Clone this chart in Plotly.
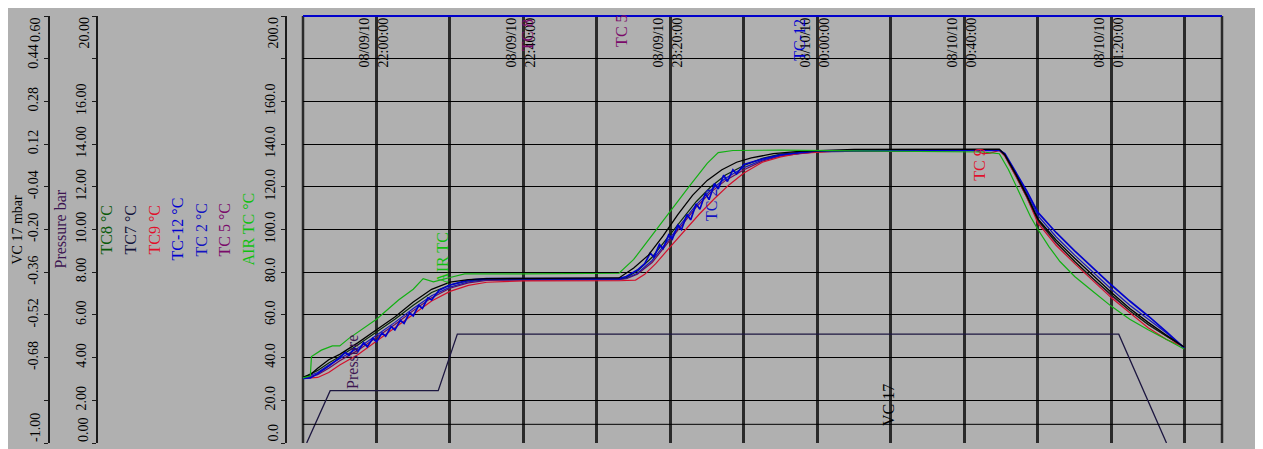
import pandas as pd
import plotly.graph_objects as go

# ---------------- data ----------------
START = pd.Timestamp("2010-08-09 21:40:00")
X_SPAN_MIN = 250.1

# AIR TC (green)
AIR_MIN = [0, 2, 2.3, 5, 8, 10, 12.5, 20, 26, 30, 32.7, 35.5, 40, 44, 60, 86, 90, 95, 100, 105, 110, 113, 117,
           130, 150, 170, 185, 189.5, 192, 195, 198, 200, 203, 206, 210, 215, 220, 225, 230, 235, 239.8]
AIR_T = [30.5, 31.5, 40.5, 43.5, 45.5, 45.5, 49, 58, 67, 72, 77, 75.5, 77.5, 79.2, 79.2, 79.5, 86, 97.5, 108.5, 120,
         131, 136, 137, 137.2, 136.8, 136.5, 136.3, 135.5, 128, 117, 106, 100, 92, 85, 78, 71, 64, 58, 53, 48.5, 44]

# TC9 (red)
TC9_MIN = [0, 4, 7, 10, 15, 20, 25, 30, 35, 40, 45, 50, 60, 86, 90.5, 93, 96, 100, 104, 108, 112, 116, 120, 125,
           130, 135, 145, 160, 183, 185, 187, 189.5, 191, 194, 197, 200, 205, 210, 215, 220, 225, 230, 235, 239.8]
TC9_T = [30.2, 30.7, 33, 36.5, 41.5, 47.8, 54, 60.5, 66.5, 71, 73.8, 75.3, 75.9, 76, 76.3, 79, 84, 92, 100, 107.5,
         114.5, 121, 126.5, 131.5, 134, 135.6, 136.7, 137, 137.2, 135.5, 135.8, 137, 134.5, 125, 115, 103, 92.5, 84,
         76, 68, 61, 54, 48.5, 45]

# TC7 (black)
TC7_MIN = [0, 2, 4, 7, 10, 15, 20, 25, 30, 35, 40, 45, 50, 86, 90, 94, 98, 102, 106, 110, 114, 118, 122, 128, 135,
           150, 189.5, 191, 194, 197, 200, 205, 210, 215, 220, 225, 230, 235, 239.8]
TC7_T = [30.8, 32, 35, 39, 41.5, 47, 53, 59, 66, 72, 75.3, 76.5, 77, 77.3, 82, 88, 97, 107, 116, 123, 128, 131.5,
         133.5, 135.5, 136.6, 137.5, 137.6, 135, 126, 116, 105, 95, 86.5, 78.5, 70.5, 63, 56.5, 50.5, 45]

# TC-12 (blue, noisy)
TC12_MIN = [0, 2, 4, 7, 10, 11.5, 12.5, 14, 15, 16.5, 17.5, 19, 20, 21.5, 22.5, 24, 25, 26.5, 27.5, 29, 30, 31.5,
            32.5, 34, 35, 37, 40, 45, 50, 86, 88, 91, 93, 94.5, 95.5, 97, 98, 99.5, 100.5, 102, 103, 104.5, 105.5,
            107, 108, 109.5, 110.5, 112, 113, 114.5, 115.5, 117, 118, 120, 125, 130, 140, 189.5, 191, 194, 197,
            200, 205, 210, 215, 220, 225, 230, 235, 239.8]
TC12_T = [30.2, 30.5, 32.5, 36, 40, 42.5, 41, 44.5, 43, 47, 45, 49, 47.5, 51.5, 50, 54.5, 53, 57.5, 56, 61, 59.5,
          64.5, 63, 68, 67, 71.5, 74, 76.3, 77, 77, 78, 81, 84, 89, 87, 93, 91, 97.5, 95.5, 102, 100, 107, 104.5,
          112, 109.5, 117, 114, 121.5, 119, 125.5, 122.5, 128, 126, 130.5, 133, 135, 136.8, 137.2, 135.5, 127, 118,
          108, 98.5, 90, 82, 74, 66.5, 59.5, 52, 44.5]

# TC8, TC 2, TC 5 share one time grid
GRID_MIN = [0, 4, 7, 10, 15, 20, 25, 30, 35, 40, 45, 50, 86, 88, 91, 95, 99, 103, 107, 111, 115, 120, 125, 130,
            140, 189.5, 191, 194, 197, 200, 205, 210, 215, 220, 225, 230, 235, 239.8]
TC8_T = [30.6, 34, 37.5, 40.5, 46, 52, 58, 64.5, 70.5, 74, 76, 76.8, 77, 77.5, 80.5, 87, 95.5, 104.5, 113, 120,
         125.5, 130, 133.3, 135.3, 136.8, 137.4, 134.8, 125.5, 115.5, 104.5, 94, 85, 77, 69.5, 62, 55.5, 50, 44.8]
TC2_T = [30.4, 33, 36.5, 39.5, 44.5, 50.5, 56.5, 63, 69, 73, 75.5, 76.5, 76.7, 77.2, 79.5, 85.5, 94, 103, 111.5,
         118.5, 124, 129, 132.5, 134.7, 136.5, 137.2, 135.2, 126.5, 117, 106.5, 96.5, 88, 80, 72, 64.5, 58, 51.5, 44.6]
TC5_T = [30.4, 32, 35, 38.5, 43.5, 49.5, 55.5, 62, 68, 72.5, 75, 76.2, 76.5, 77, 79, 84.5, 93, 102, 110.5, 117.5,
         123, 128, 132, 134.5, 136.5, 137.2, 134.5, 125, 115, 104, 93.5, 85, 77, 69, 62, 55.5, 50, 44.8]

# Pressure (bar)
PRESS_MIN = [1.0, 7.4, 36.8, 42.0, 222.0, 235.0]
PRESS_BAR = [0.0, 2.45, 2.45, 5.1, 5.1, 0.0]

# VC 17 (mbar)
VC_MIN = [0, 250.1]
VC_MBAR = [-0.93, -0.93]

# axis ticks
TEMP_TICKS = [0, 20, 40, 60, 80, 100, 120, 140, 160, 180, 200]
TEMP_TEXT = ["", "20.0", "40.0", "60.0", "80.0", "100.0", "120.0", "140.0", "160.0", "", ""]
TEMP_ENDS = ["0.0", "200.0"]
PRESS_TICKS = [0, 2, 4, 6, 8, 10, 12, 14, 16, 18, 20]
PRESS_TEXT = ["", "2.00", "4.00", "6.00", "8.00", "10.00", "12.00", "14.00", "16.00", "", ""]
PRESS_ENDS = ["0.00", "20.00"]
VC_TICKS = [-1.0, -0.84, -0.68, -0.52, -0.36, -0.20, -0.04, 0.12, 0.28, 0.44, 0.60]
VC_TEXT = ["", "", "-0.68", "-0.52", "-0.36", "-0.20", "-0.04", "0.12", "0.28", "0.44", ""]
VC_ENDS = ["-1.00", "0.60"]

LABEL_MIN = [20, 60, 100, 140, 180, 220]
LABEL_TEXT = ["08/09/10<br>22:00:00", "08/09/10<br>22:40:00", "08/09/10<br>23:20:00",
              "08/10/10<br>00:00:00", "08/10/10<br>00:40:00", "08/10/10<br>01:20:00"]

# ---------------- styling ----------------
W, H = 1255, 441
GREY = "#b0b0b0"
SERIF = "Liberation Serif, Times New Roman, serif"
PX_PLOT_L, PX_PLOT_R = 295, 1214
PX_AX_T, PX_AX_P, PX_AX_V = 278, 89, 41


def t(mins):
    return [START + pd.Timedelta(minutes=m) for m in mins]


fig = go.Figure()

series = [
    ("TC 5", GRID_MIN, TC5_T, "#6a0a5a", 1.2),
    ("TC 2", GRID_MIN, TC2_T, "#1818b4", 1.2),
    ("TC9", TC9_MIN, TC9_T, "#d3102c", 1.2),
    ("TC8", GRID_MIN, TC8_T, "#0c280c", 1.2),
    ("TC-12", TC12_MIN, TC12_T, "#0000cc", 1.7),
    ("TC7", TC7_MIN, TC7_T, "#000000", 1.3),
    ("AIR TC", AIR_MIN, AIR_T, "#12b012", 1.2),
]
for name, mins, vals, col, lw in series:
    fig.add_trace(go.Scatter(x=t(mins), y=vals, mode="lines", name=name,
                             line=dict(color=col, width=lw), yaxis="y"))

fig.add_trace(go.Scatter(x=t(PRESS_MIN), y=PRESS_BAR, mode="lines", name="Pressure",
                         line=dict(color="#1c1640", width=1.3), yaxis="y2"))
fig.add_trace(go.Scatter(x=t(VC_MIN), y=VC_MBAR, mode="lines", name="VC 17",
                         line=dict(color="#000000", width=1), yaxis="y3"))

tickfont = dict(family=SERIF, size=14, color="black")
common_y = dict(anchor="free", side="left", ticks="outside", ticklen=4, tickcolor="#1a1a1a",
                showline=True, linecolor="#1a1a1a", linewidth=2, zeroline=False,
                tickangle=-90, tickfont=tickfont, tickmode="array")

fig.update_layout(
    width=W, height=H, margin=dict(l=0, r=0, t=8, b=6),
    paper_bgcolor=GREY, plot_bgcolor=GREY, showlegend=False,
    xaxis=dict(domain=[PX_PLOT_L / W, PX_PLOT_R / W], type="date",
               range=[START, START + pd.Timedelta(minutes=X_SPAN_MIN)],
               showgrid=True, gridcolor="#2a2a2a", gridwidth=2.5,
               dtick=20 * 60 * 1000, tick0=START, showticklabels=False, ticks="",
               zeroline=False, showline=False, anchor="y"),
    yaxis=dict(range=[0, 200], position=PX_AX_T / W, tickvals=TEMP_TICKS, ticktext=TEMP_TEXT,
               showgrid=True, gridcolor="black", gridwidth=1, **common_y),
    yaxis2=dict(range=[0, 20], overlaying="y", position=PX_AX_P / W, tickvals=PRESS_TICKS,
                ticktext=PRESS_TEXT, showgrid=False, **common_y),
    yaxis3=dict(range=[-1, 0.6], overlaying="y", position=PX_AX_V / W, tickvals=VC_TICKS,
                ticktext=VC_TEXT, showgrid=False, **common_y),
)

# frame lines
for xd in (0, 1):
    fig.add_shape(type="line", xref="x domain", yref="y domain", x0=xd, x1=xd, y0=0, y1=1,
                  line=dict(color="#2a2a2a", width=2.5), layer="below")
fig.add_shape(type="line", xref="x domain", yref="y domain", x0=0, x1=1, y0=1, y1=1,
              line=dict(color="#0000cc", width=2))

# end tick labels of the three left axes
for pos, ends in ((PX_AX_T, TEMP_ENDS), (PX_AX_P, PRESS_ENDS), (PX_AX_V, VC_ENDS)):
    for yv, txt, ya in ((0, ends[0], "bottom"), (1, ends[1], "top")):
        fig.add_annotation(x=(pos - 5) / W, y=yv, xref="paper", yref="paper", text=txt,
                           showarrow=False, textangle=-90, xanchor="right", yanchor=ya,
                           font=tickfont, borderpad=0)

# date/time labels at the top inside the plot
for m, txt in zip(LABEL_MIN, LABEL_TEXT):
    fig.add_annotation(x=START + pd.Timedelta(minutes=m), y=1, xref="x", yref="paper", text=txt,
                       showarrow=False, textangle=-90, xanchor="center", yanchor="top", xshift=-3,
                       font=dict(family=SERIF, size=14, color="black"), borderpad=0)

# axis titles / legend texts on the left
LEFT_TITLES = [("VC 17 mbar", 9, "#000000", 14), ("Pressure bar", 52, "#3c1450", 16),
               ("TC8 °C", 98, "#0a5a0a", 16), ("TC7 °C", 122, "#14143c", 16), ("TC9 °C", 146, "#e0102c", 16),
               ("TC-12 °C", 169, "#0000d0", 16), ("TC 2 °C", 193, "#1414c0", 16),
               ("TC 5 °C", 216, "#7a0a6a", 16), ("AIR TC °C", 240, "#10c010", 16)]
for txt, px, col, fs in LEFT_TITLES:
    fig.add_annotation(x=px / W, y=0.5, xref="paper", yref="paper", text=txt, showarrow=False,
                       textangle=-90, xanchor="center", yanchor="middle", borderpad=0,
                       font=dict(family=SERIF, size=fs, color=col))

# curve labels inside the plot
CURVE_LABELS = [("Pressure", 13.3, 37.9, "#3c1450"), ("AIR TC", 38.1, 86.7, "#10c010"),
                ("TC 5", 86.8, 193.0, "#7a0a6a"), ("TC 2", 111.3, 111.5, "#1414c0"),
                ("TC 9", 183.9, 130.2, "#e0102c"), ("TC-12", 135.2, 188.8, "#0000d0"),
                ("TC 8", 61.0, 191.0, "#7a0a6a"), ("VC 17", 159.2, 17.8, "#000000")]
for txt, m, yv, col in CURVE_LABELS:
    fig.add_annotation(x=START + pd.Timedelta(minutes=m), y=yv, xref="x", yref="y", text=txt,
                       showarrow=False, textangle=-90, xanchor="center", yanchor="middle",
                       font=dict(family=SERIF, size=16, color=col))

fig.write_html("out.html", default_width="1255px", default_height="441px")
